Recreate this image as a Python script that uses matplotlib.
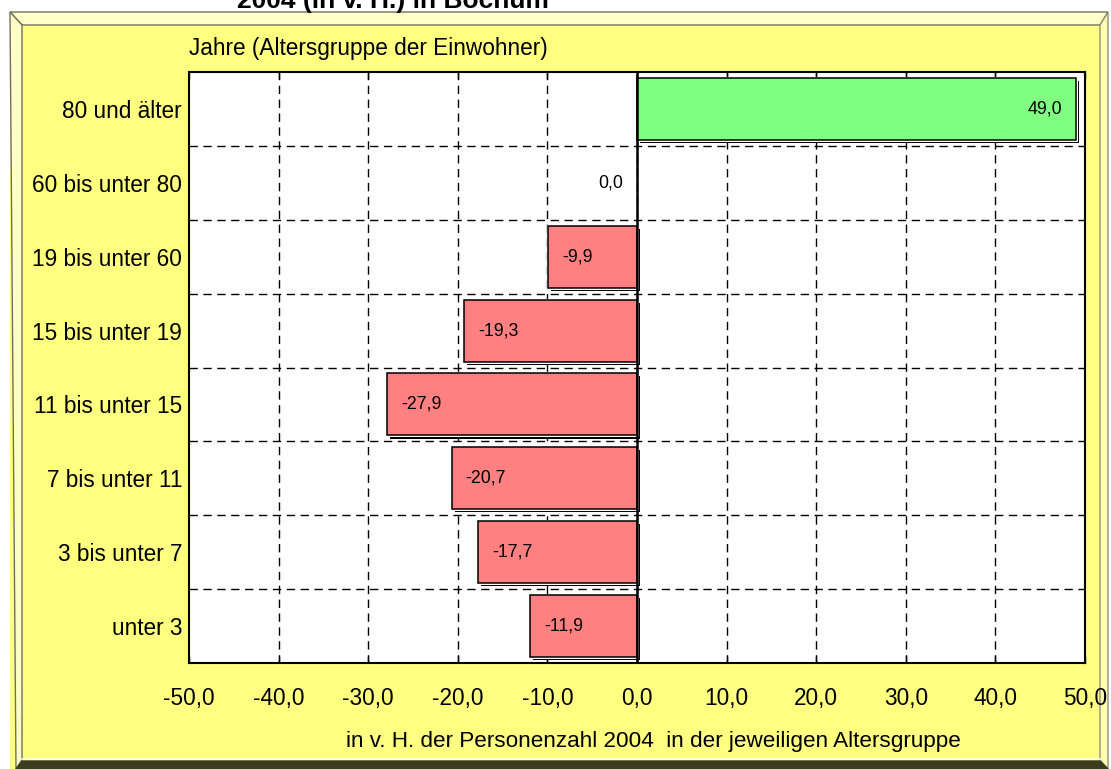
import matplotlib
matplotlib.use("Agg")
import matplotlib.pyplot as plt
from matplotlib.patches import Polygon, Rectangle
from matplotlib import patheffects as pe
from matplotlib.ticker import FuncFormatter, MultipleLocator

plt.rcParams['font.family'] = ['Liberation Sans', 'DejaVu Sans']

# Age groups (top to bottom) and change in percent
groups = ["80 und älter", "60 bis unter 80", "19 bis unter 60", "15 bis unter 19",
          "11 bis unter 15", "7 bis unter 11", "3 bis unter 7", "unter 3"]
values = [49.0, 0.0, -9.9, -19.3, -27.9, -20.7, -17.7, -11.9]

title_text = "2004 (in v. H.) in Bochum"
y_caption = "Jahre (Altersgruppe der Einwohner)"
x_caption = "in v. H. der Personenzahl 2004  in der jeweiligen Altersgruppe"

W, H = 1111, 769
fig = plt.figure(figsize=(W / 100, H / 100), dpi=100)
fig.patch.set_facecolor("white")

# Frame drawn in pixel coordinates
bg = fig.add_axes([0, 0, 1, 1])
bg.set_xlim(0, W)
bg.set_ylim(H, 0)
bg.axis("off")

yellow = "#FFFF80"
light = "#FFFFC8"
dark = "#3C3C1E"
x0, y0, x1, y1 = 10, 12, 1108, 769
bw = 12
bg.add_patch(Rectangle((x0, y0), x1 - x0, y1 - y0, facecolor=yellow, edgecolor="none"))
# top bevel
bg.add_patch(Polygon([(x0, y0), (x1, y0), (x1 - 8, y0 + 13), (x0 + bw, y0 + 13)],
                     closed=True, facecolor=light, edgecolor="#707060", lw=1))
# left bevel
bg.add_patch(Polygon([(x0, y0), (x0 + bw, y0 + 13), (x0 + bw, y1 - 9), (x0 + 6, y1)],
                     closed=True, facecolor=light, edgecolor="#707060", lw=1))
# right bevel
bg.add_patch(Polygon([(x1, y0), (x1, y1), (x1 - 8, y1 - 9), (x1 - 8, y0 + 13)],
                     closed=True, facecolor="#FFFFB0", edgecolor="#909080", lw=1))
# bottom bevel
bg.add_patch(Polygon([(x0 + 6, y1), (x0 + bw, y1 - 8), (x1 - 8, y1 - 8), (x1, y1)],
                     closed=True, facecolor=dark, edgecolor=dark, lw=1))
bg.plot([x0 + bw, x1 - 8], [y1 - 10, y1 - 10], color="white", lw=1.2)

bg.text(237, 8, title_text, fontsize=19, fontweight="bold", ha="left", va="baseline")
bg.text(189, 48, y_caption, fontsize=16.3, ha="left", va="center")
bg.text(653, 742, x_caption, fontsize=16.2, ha="center", va="center")

# Chart area
left, right, top, bottom = 189, 1085, 72, 663
ax = fig.add_axes([left / W, (H - bottom) / H, (right - left) / W, (bottom - top) / H])
ax.set_facecolor("white")

n = len(groups)
ypos = list(range(n))
colors = ["#80FF80" if v > 0 else "#FF8080" for v in values]

ax.set_xlim(-50, 50)
ax.set_ylim(n - 0.5, -0.5)

# dashed grid
for xv in range(-40, 50, 10):
    ax.axvline(xv, color="black", lw=1, ls=(0, (6, 4)), zorder=1)
for k in range(1, n):
    ax.axhline(k - 0.5, color="black", lw=1, ls=(0, (6, 4)), zorder=1)

# bars with a dark drop shadow separated by a thin light rim
shadow = [pe.SimplePatchShadow(offset=(2.2, -2.2), shadow_rgbFace="black", alpha=1.0),
          pe.Stroke(linewidth=2.2, foreground="white"), pe.Normal()]
bars = ax.barh(ypos, values, height=0.84, color=colors, edgecolor="black", lw=1.1, zorder=3)
for b, v in zip(bars, values):
    if v != 0:
        b.set_path_effects(shadow)
    else:
        b.set_visible(False)

ax.axvline(0, color="black", lw=1.8, zorder=4)

for yv, v in zip(ypos, values):
    lab = f"{v:.1f}".replace(".", ",")
    if v >= 0:
        ax.annotate(lab, (v, yv), xytext=(-10, 0), textcoords="offset points",
                    ha="right", va="center", fontsize=12.8, zorder=5)
    else:
        ax.annotate(lab, (v, yv), xytext=(10, 0), textcoords="offset points",
                    ha="left", va="center", fontsize=12.8, zorder=5)

ax.set_yticks(ypos)
ax.set_yticklabels(groups, fontsize=16.3)
ax.tick_params(axis="y", length=0, pad=5)

ax.xaxis.set_major_locator(MultipleLocator(10))
ax.xaxis.set_major_formatter(FuncFormatter(lambda x, p: f"{x:.1f}".replace(".", ",")))
ax.tick_params(axis="x", direction="in", length=5, top=True, bottom=True,
               labelsize=16.3, pad=17, width=1)

for s in ax.spines.values():
    s.set_color("black")
    s.set_linewidth(1.5)
    s.set_zorder(6)

fig.savefig("out.png", dpi=100, facecolor=fig.get_facecolor())
